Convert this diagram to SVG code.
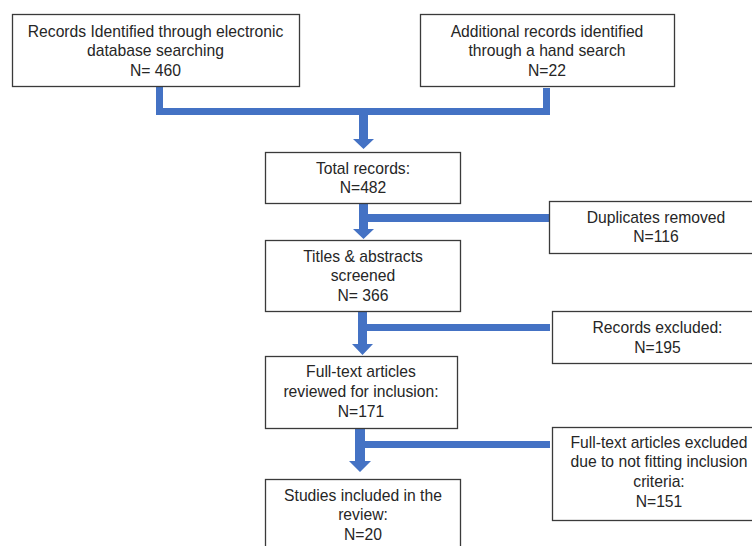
<svg xmlns="http://www.w3.org/2000/svg" width="752" height="546" viewBox="0 0 752 546">
<style>
.box{fill:#fff;stroke:#3a3a3a;stroke-width:1.3}
.t{font-family:"Liberation Sans",Arial,sans-serif;font-size:15.7px;fill:#262626;text-anchor:middle}
.c{fill:#4472c4;stroke:none}
</style>
<rect width="752" height="546" fill="#fff"/>
<g id="connectors">
<path class="c" d="M156 86 H163 V108 H543 V88 H550 V115 H156 Z"/>
<path class="c" d="M359 114 H368 V139 H374 L363.5 149 L353 139 H359 Z"/>
<path class="c" d="M359 203 H368 V214 H550 V222 H368 V229 H374 L363.5 239 L353 229 H359 Z"/>
<path class="c" d="M358 311 H367 V324 H550 V331 H367 V344 H373 L362.5 355 L352 344 H358 Z"/>
<path class="c" d="M355 428 H365 V441 H550 V448 H365 V461 H371 L360 472 L349 461 H355 Z"/>
</g>
<g id="n1">
<rect class="box" x="12.5" y="14.5" width="287" height="72"/>
<text class="t" x="155.5" y="37">Records Identified through electronic</text>
<text class="t" x="155.5" y="56">database searching</text>
<text class="t" x="155.5" y="76">N= 460</text>
</g>
<g id="n2">
<rect class="box" x="420.5" y="14.5" width="254" height="72"/>
<text class="t" x="547" y="37">Additional records identified</text>
<text class="t" x="547" y="56">through a hand search</text>
<text class="t" x="547" y="76">N=22</text>
</g>
<g id="n3">
<rect class="box" x="265.5" y="152.5" width="195" height="51"/>
<text class="t" x="363" y="174">Total records:</text>
<text class="t" x="363" y="193">N=482</text>
</g>
<g id="n4">
<rect class="box" x="549.5" y="201.5" width="212" height="52"/>
<text class="t" x="656" y="223">Duplicates removed</text>
<text class="t" x="656" y="242">N=116</text>
</g>
<g id="n5">
<rect class="box" x="265.5" y="240.5" width="195" height="71"/>
<text class="t" x="363" y="262">Titles &amp; abstracts</text>
<text class="t" x="363" y="281">screened</text>
<text class="t" x="363" y="301">N= 366</text>
</g>
<g id="n6">
<rect class="box" x="552.5" y="311.5" width="210" height="52"/>
<text class="t" x="657.5" y="333">Records excluded:</text>
<text class="t" x="657.5" y="353">N=195</text>
</g>
<g id="n7">
<rect class="box" x="265.5" y="356.5" width="192" height="72"/>
<text class="t" x="361" y="377">Full-text articles</text>
<text class="t" x="361" y="397">reviewed for inclusion:</text>
<text class="t" x="361" y="417">N=171</text>
</g>
<g id="n8">
<rect class="box" x="552.5" y="427.5" width="210" height="93"/>
<text class="t" x="659" y="448">Full-text articles excluded</text>
<text class="t" x="659" y="467">due to not fitting inclusion</text>
<text class="t" x="659" y="487">criteria:</text>
<text class="t" x="659" y="507">N=151</text>
</g>
<g id="n9">
<rect class="box" x="265.5" y="479.5" width="195" height="80"/>
<text class="t" x="363" y="501">Studies included in the</text>
<text class="t" x="363" y="520">review:</text>
<text class="t" x="363" y="540">N=20</text>
</g>
</svg>
